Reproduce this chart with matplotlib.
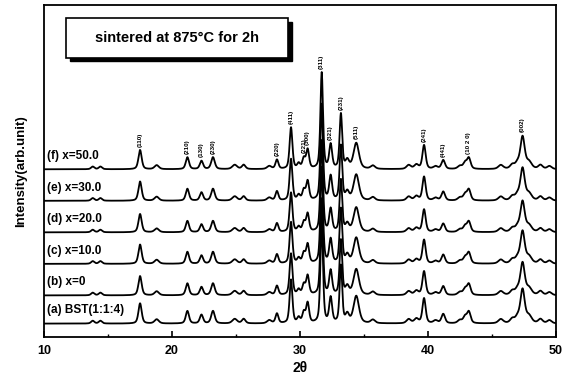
import matplotlib
matplotlib.use("Agg")
import matplotlib.pyplot as plt
import numpy as np
from matplotlib.patches import Rectangle

plt.rcParams['font.family'] = ['Liberation Sans', 'DejaVu Sans']
plt.rcParams['font.weight'] = 'bold'

# sample names, bottom to top
samples = ["(a) BST(1:1:4)", "(b) x=0", "(c) x=10.0", "(d) x=20.0", "(e) x=30.0", "(f) x=50.0"]
offsets = [4.0, 12.5, 22.0, 31.5, 41.0, 50.5]   # baseline of each pattern

# peak list: position (2theta), height, width
peak_pos = [13.8, 14.4, 17.5, 18.8, 21.2, 22.3, 23.2, 24.9, 25.6, 27.6, 28.2, 29.3,
            29.9, 30.3, 30.6, 31.7, 32.4, 33.2, 33.7, 34.4, 35.7, 38.5, 39.1, 39.7,
            40.6, 41.2, 42.5, 42.9, 43.2, 45.7, 46.6, 47.0, 47.4, 47.9, 48.8, 49.5]
peak_h = [0.8, 0.8, 5.8, 1.2, 3.6, 2.5, 3.6, 1.3, 1.3, 0.9, 2.8, 12.5,
          1.5, 3.0, 5.7, 29.0, 7.2, 16.5, 2.4, 7.8, 1.0, 1.2, 1.3, 7.2,
          0.8, 2.7, 0.9, 1.8, 3.3, 1.2, 1.2, 1.5, 9.6, 2.0, 1.2, 0.9]
peak_w = [0.3, 0.3, 0.3, 0.4, 0.3, 0.3, 0.33, 0.45, 0.33, 0.4, 0.27, 0.26,
          0.27, 0.27, 0.27, 0.24, 0.27, 0.24, 0.33, 0.5, 0.4, 0.4, 0.4, 0.3,
          0.4, 0.33, 0.4, 0.33, 0.33, 0.45, 0.4, 0.4, 0.4, 0.5, 0.4, 0.4]

# relative strength of each pattern (a .. f)
scale = [1.05, 1.0, 1.0, 0.95, 1.0, 1.0]

# hkl labels over the top pattern
hkl_pos = [17.5, 21.2, 22.3, 23.2, 28.2, 29.3, 30.3, 30.6, 31.7, 32.4, 33.2, 34.4, 39.7, 41.2, 43.2, 47.4]
hkl_txt = ["(110)", "(210)", "(130)", "(230)", "(220)", "(411)", "(221)", "(300)", "(311)",
           "(321)", "(231)", "(511)", "(241)", "(441)", "(10 2 0)", "(002)"]

x = np.linspace(10, 50, 3000)


def pattern(k):
    # pseudo-Voigt peaks (half gauss, half lorentz)
    y = np.zeros_like(x)
    for p, h, w in zip(peak_pos, peak_h, peak_w):
        d = (x - p) / (w / 2)
        y += scale[k] * h * (0.5 / (1 + d ** 2) + 0.5 * np.exp(-np.log(2) * d ** 2))
    return y


fig = plt.figure(figsize=(5.73, 3.85), dpi=100)
ax = fig.add_axes([0.077, 0.125, 0.893, 0.862])

for k, name in enumerate(samples):
    ax.plot(x, pattern(k) + offsets[k], color="black", lw=1.3)
    ax.text(10.2, offsets[k] + 2.2, name, fontsize=8.5, fontweight="bold", va="bottom", ha="left")

top = pattern(5) + offsets[5]
for p, t in zip(hkl_pos, hkl_txt):
    ytop = top[np.argmin(np.abs(x - p))]
    ax.text(p, ytop + 1.0, t, rotation=90, fontsize=4.5, fontweight="bold",
            ha="center", va="bottom")

# title box with shadow
ax.add_patch(Rectangle((0.050, 0.830), 0.434, 0.120, transform=ax.transAxes,
                       facecolor="black", edgecolor="black", zorder=4))
ax.add_patch(Rectangle((0.043, 0.841), 0.434, 0.120, transform=ax.transAxes,
                       facecolor="white", edgecolor="black", lw=1.2, zorder=5))
ax.text(0.260, 0.901, "sintered at 875°C for 2h", transform=ax.transAxes,
        fontsize=10.5, fontweight="bold", ha="center", va="center", zorder=6)

ax.set_xlim(10, 50)
ax.set_ylim(0, 100)
ax.set_xticks([10, 20, 30, 40, 50])
ax.set_xticks([15, 25, 35, 45], minor=True)
ax.set_yticks([])
ax.tick_params(axis="x", direction="in", length=4, width=1.2, labelsize=9, pad=6)
ax.tick_params(axis="x", which="minor", direction="in", length=2.5, width=1.0)
for lab in ax.get_xticklabels():
    lab.set_fontweight("bold")
for s in ax.spines.values():
    s.set_linewidth(1.3)
ax.set_xlabel("2θ", fontsize=10, fontweight="bold", labelpad=3)
ax.set_ylabel("Intensity(arb.unit)", fontsize=9.5, fontweight="bold", labelpad=12)

fig.savefig("out.png", dpi=100)
